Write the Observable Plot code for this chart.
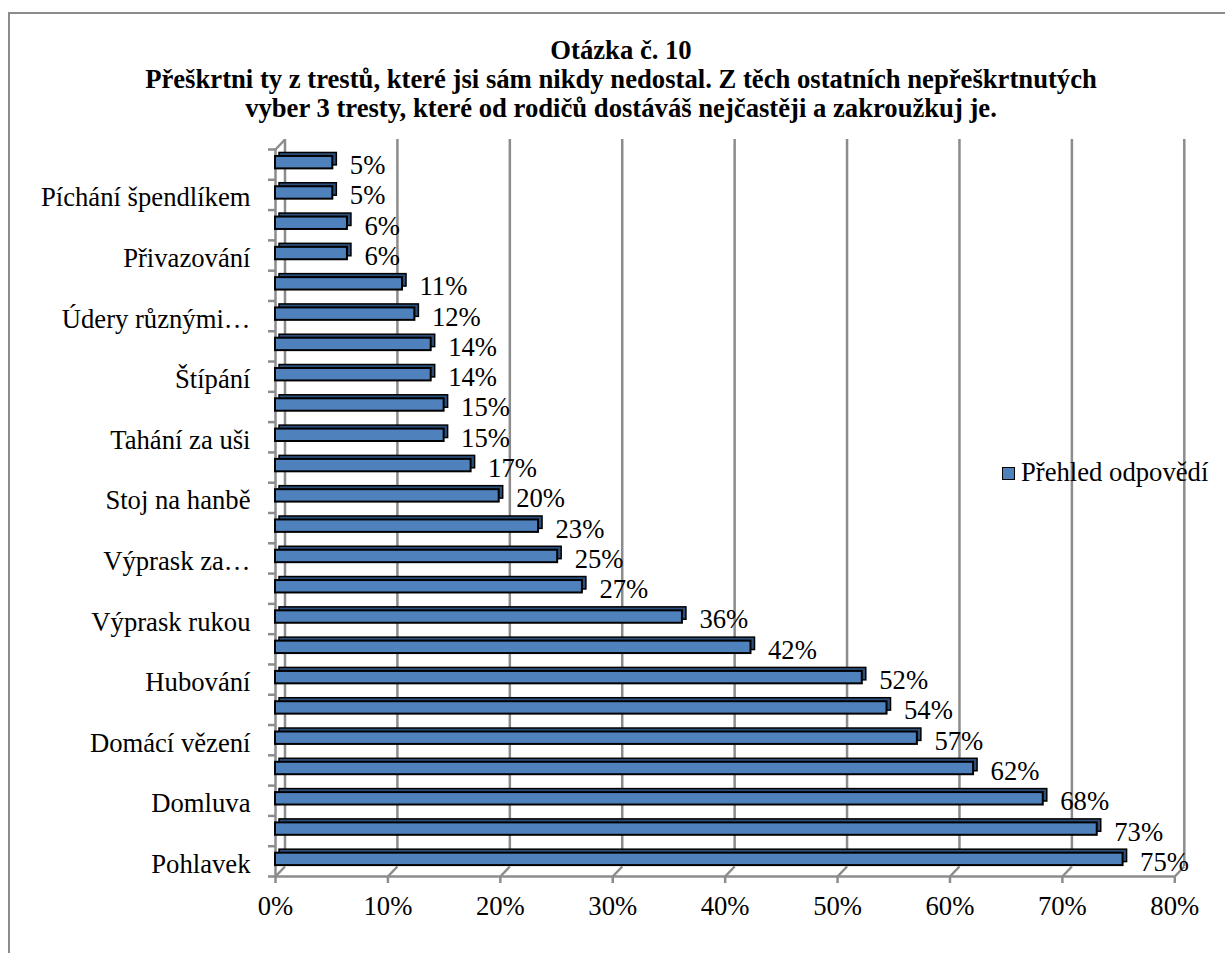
<!DOCTYPE html>
<html>
<head>
<meta charset="utf-8">
<script src="https://cdn.jsdelivr.net/npm/d3@7"></script>
<script src="https://cdn.jsdelivr.net/npm/@observablehq/plot@0.6"></script>
<style>
  html, body { margin: 0; padding: 0; background: #fff; }
  #wrap { position: relative; width: 1225px; height: 953px; overflow: hidden; font-family: "Liberation Serif", "Times New Roman", serif; }
  #frame { position: absolute; left: 8px; top: 12px; width: 1240px; height: 960px; border: 2px solid #8c8c8c; box-sizing: border-box; }
  #title { position: absolute; left: 9px; width: 1224px; top: 36px; text-align: center; font-weight: bold; font-size: 26.67px; line-height: 29px; color: #000; }
  #legend { position: absolute; left: 1002px; top: 457px; font-size: 26.67px; line-height: 30px; color: #000; white-space: nowrap; }
  #legend .sw { display: inline-block; width: 11px; height: 11px; background: #4F81BD; border: 1.5px solid #000; margin-right: 6px; vertical-align: 1px; }
  #chart { position: absolute; left: 0; top: 0; }
</style>
</head>
<body>
<div id="wrap">
  <div id="frame"></div>
  <div id="chart"></div>
  <div id="title"></div>
  <div id="legend"></div>
</div>
<script>
// ---- data ----
const titleLines = [
  "Otázka č. 10",
  "Přeškrtni ty z trestů, které jsi sám nikdy nedostal. Z těch ostatních nepřeškrtnutých",
  "vyber 3 tresty, které od rodičů dostáváš nejčastěji a zakroužkuj je."
];
// top to bottom; only every other category label is shown in the original
const categories = [
  "", "Píchání špendlíkem", "", "Přivazování", "", "Údery různými…",
  "", "Štípání", "", "Tahání za uši", "", "Stoj na hanbě",
  "", "Výprask za…", "", "Výprask rukou", "", "Hubování",
  "", "Domácí vězení", "", "Domluva", "", "Pohlavek"
];
const values = [
  5.1, 5.1, 6.4, 6.4, 11.3, 12.4,
  13.85, 13.85, 15.0, 15.0, 17.4, 19.9,
  23.4, 25.1, 27.3, 36.2, 42.3, 52.2,
  54.4, 57.1, 62.1, 68.3, 73.1, 75.4
];
const xTicks = [0, 10, 20, 30, 40, 50, 60, 70, 80];
const seriesName = "Přehled odpovědí";

// ---- build ----
const rows = categories.map((c, i) => ({i, cat: c, v: values[i]}));
const n = rows.length;
const labelTicks = rows.filter(d => d.cat).map(d => d.i + 0.5);
const boundaries = d3.range(n + 1);

const grid = "#8c8c8c";
const depthX = 0.845;   // back wall offset in x units
const depthY = 0.33;    // back wall offset in y units
const fs = 26.67;

const plot = Plot.plot({
  width: 1225,
  height: 953,
  marginTop: 149,
  marginBottom: 77,
  marginLeft: 275,
  marginRight: 50.7,
  style: {fontFamily: "'Liberation Serif', 'Times New Roman', serif", fontSize: fs + "px", background: "transparent", color: "#000"},
  x: {domain: [0, 80], label: null},
  y: {domain: [n, 0], label: null},
  marks: [
    // back wall gridlines
    Plot.ruleX(xTicks, {x: d => d, y1: 0, y2: n, dx: 9.5, dy: -10, stroke: grid, strokeWidth: 2.5}),
    // floor diagonals
    Plot.link(xTicks, {x1: d => d, y1: n, x2: d => d + depthX, y2: n - depthY, stroke: grid, strokeWidth: 2.5}),
    // left wall top diagonal
    Plot.link([0], {x1: 0, y1: 0, x2: depthX, y2: -depthY, stroke: grid, strokeWidth: 2.5}),
    // front left axis line and front floor line
    Plot.ruleX([0], {y1: 0, y2: n, stroke: grid, strokeWidth: 2.5}),
    Plot.ruleY([n], {x1: 0, x2: 80, stroke: grid, strokeWidth: 2.5}),
    // x axis
    Plot.axisX(xTicks, {label: null, tickSize: 7, tickPadding: 13, tickFormat: d => d + "%", stroke: grid, strokeWidth: 2.5, fill: "#000", fontSize: fs}),
    // y tick marks at category boundaries
    Plot.axisY(boundaries, {label: null, tickSize: 7, tickFormat: () => "", stroke: grid, strokeWidth: 2.5}),
    // y category labels
    Plot.axisY(labelTicks, {label: null, tickSize: 0, tickPadding: 25, tickFormat: y => categories[Math.floor(y)], fill: "#000", fontSize: fs, dy: 3}),
    // bar depth (top/side faces)
    Plot.rect(rows, {x1: 0, x2: "v", y1: d => d.i + 0.23, y2: d => d.i + 0.64, dx: 4, dy: -3.5, fill: "#2d4f7c", stroke: "#000", strokeWidth: 1.5}),
    // bar front faces
    Plot.rect(rows, {x1: 0, x2: "v", y1: d => d.i + 0.23, y2: d => d.i + 0.64, fill: "#4F81BD", stroke: "#000", strokeWidth: 2}),
    // data labels
    Plot.text(rows, {x: "v", y: d => d.i + 0.53, text: d => Math.round(d.v) + "%", dx: 17, textAnchor: "start", fill: "#000", fontSize: fs})
  ]
});
document.getElementById("chart").appendChild(plot);
document.getElementById("title").innerHTML = titleLines.map(t => `<div>${t}</div>`).join("");
document.getElementById("legend").innerHTML = `<span class="sw"></span>${seriesName}`;
</script>
</body>
</html>
